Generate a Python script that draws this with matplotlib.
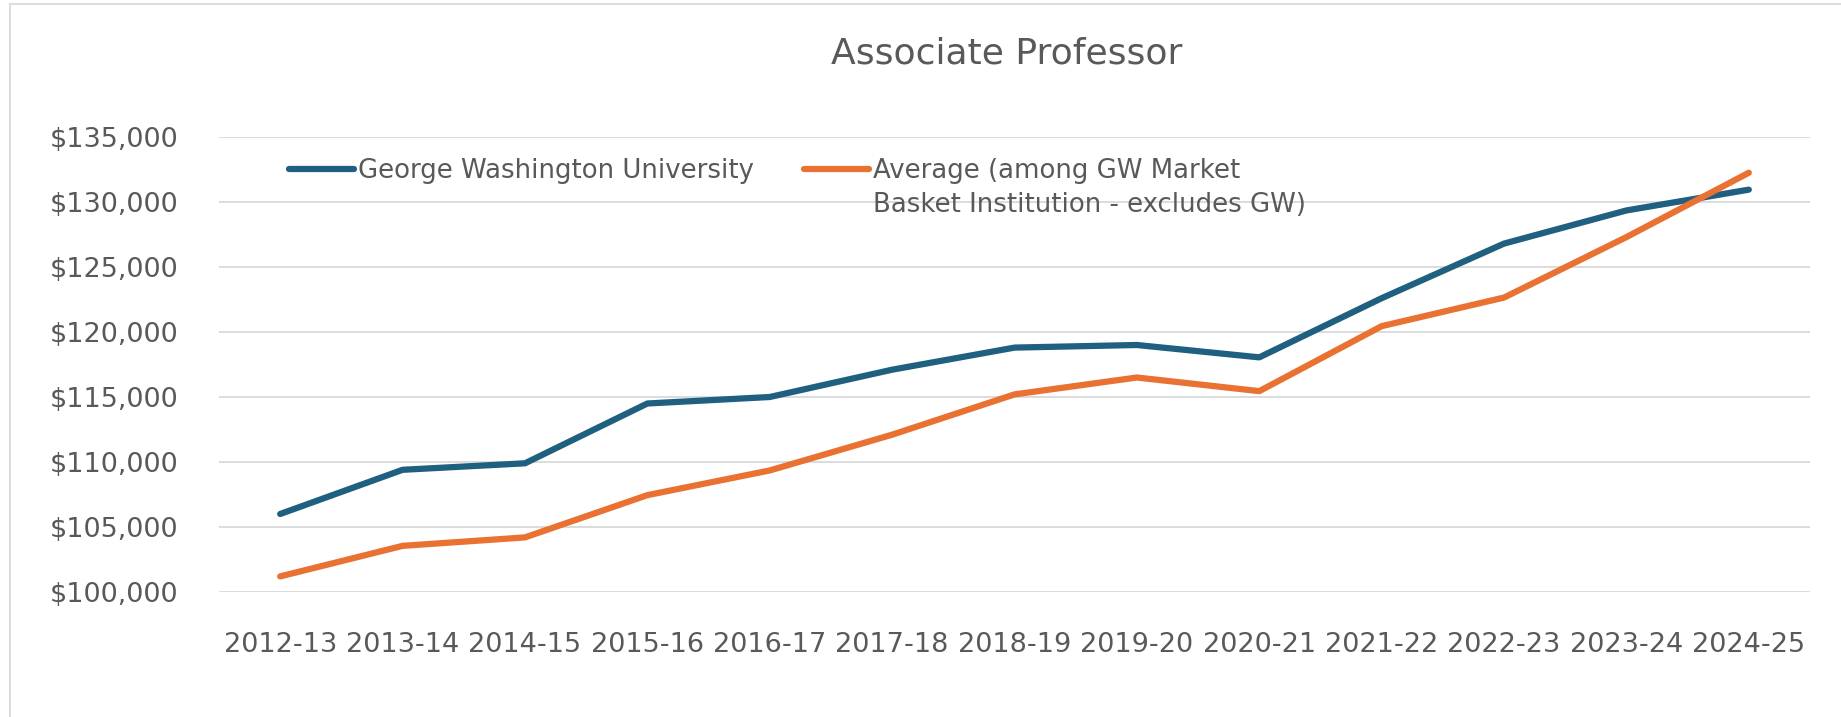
import matplotlib
matplotlib.use("Agg")
import matplotlib.pyplot as plt
from matplotlib.lines import Line2D
from matplotlib.ticker import FuncFormatter, MultipleLocator

years = ["2012-13", "2013-14", "2014-15", "2015-16", "2016-17", "2017-18", "2018-19",
         "2019-20", "2020-21", "2021-22", "2022-23", "2023-24", "2024-25"]
gw = [106000, 109400, 109900, 114500, 115000, 117100, 118800,
      119000, 118050, 122600, 126800, 129350, 130950]
avg = [101200, 103550, 104200, 107450, 109350, 112100, 115200,
       116500, 115450, 120450, 122650, 127300, 132250]
series_labels = ["George Washington University",
                 "Average (among GW Market\nBasket Institution - excludes GW)"]
title = "Associate Professor"

W, H, DPI = 1841, 717, 100
BLUE = "#1F5F7F"
ORANGE = "#E97132"
TXT = "#595959"
GRID = "#D9D9D9"

plt.rcParams['font.family'] = ['DejaVu Sans']
fig = plt.figure(figsize=(W / DPI, H / DPI), dpi=DPI)
fig.patch.set_facecolor("white")

left, right, top, bottom = 219, 1810, 137, 592
ax = fig.add_axes([left / W, 1 - bottom / H, (right - left) / W, (bottom - top) / H])

x = list(range(len(years)))
ax.plot(x, gw, color=BLUE, lw=4.5, solid_capstyle='round', solid_joinstyle='round',
        label=series_labels[0], zorder=3)
ax.plot(x, avg, color=ORANGE, lw=4.5, solid_capstyle='round', solid_joinstyle='round',
        label=series_labels[1], zorder=3)

ax.set_xlim(-0.5, len(years) - 0.5)
ax.set_ylim(100000, 135000)
ax.yaxis.set_major_locator(MultipleLocator(5000))
ax.yaxis.set_major_formatter(FuncFormatter(lambda v, p: f"${v:,.0f}"))
ax.set_xticks(x)
ax.set_xticklabels(years)

for s in ax.spines.values():
    s.set_visible(False)
ax.grid(axis='y', color=GRID, lw=1.3, zorder=0)
ax.set_axisbelow(True)
ax.tick_params(axis='both', length=0, colors=TXT, labelsize=19.5)
ax.tick_params(axis='y', pad=29)
ax.tick_params(axis='x', pad=28.5)

leg = ax.legend(ncol=2, loc='upper left',
                bbox_to_anchor=(289 / W, 1 - 158 / H), bbox_transform=fig.transFigure,
                frameon=False, fontsize=18.7, handlelength=2.5, handletextpad=0.15,
                handleheight=1.17, columnspacing=1.95, borderpad=0, borderaxespad=0,
                labelcolor=TXT)
for t in leg.get_texts():
    t.set_linespacing(1.4)
leg._legend_handle_box.align = 'top'
for col in leg._legend_handle_box.get_children():
    col.align = 'left'
    for item in col.get_children():
        item.align = 'top'

fig.text(1007 / W, 1 - 53 / H, title, ha='center', va='center', fontsize=26, color=TXT)

# chart frame edges
fig.add_artist(Line2D([10 / W, 10 / W], [0, 1 - 4 / H], transform=fig.transFigure,
                      color="#D5D5D5", lw=1.2))
fig.add_artist(Line2D([10 / W, 1], [1 - 4 / H, 1 - 4 / H], transform=fig.transFigure,
                      color="#DDDDDD", lw=1.5))

fig.savefig("out.png", dpi=DPI)
